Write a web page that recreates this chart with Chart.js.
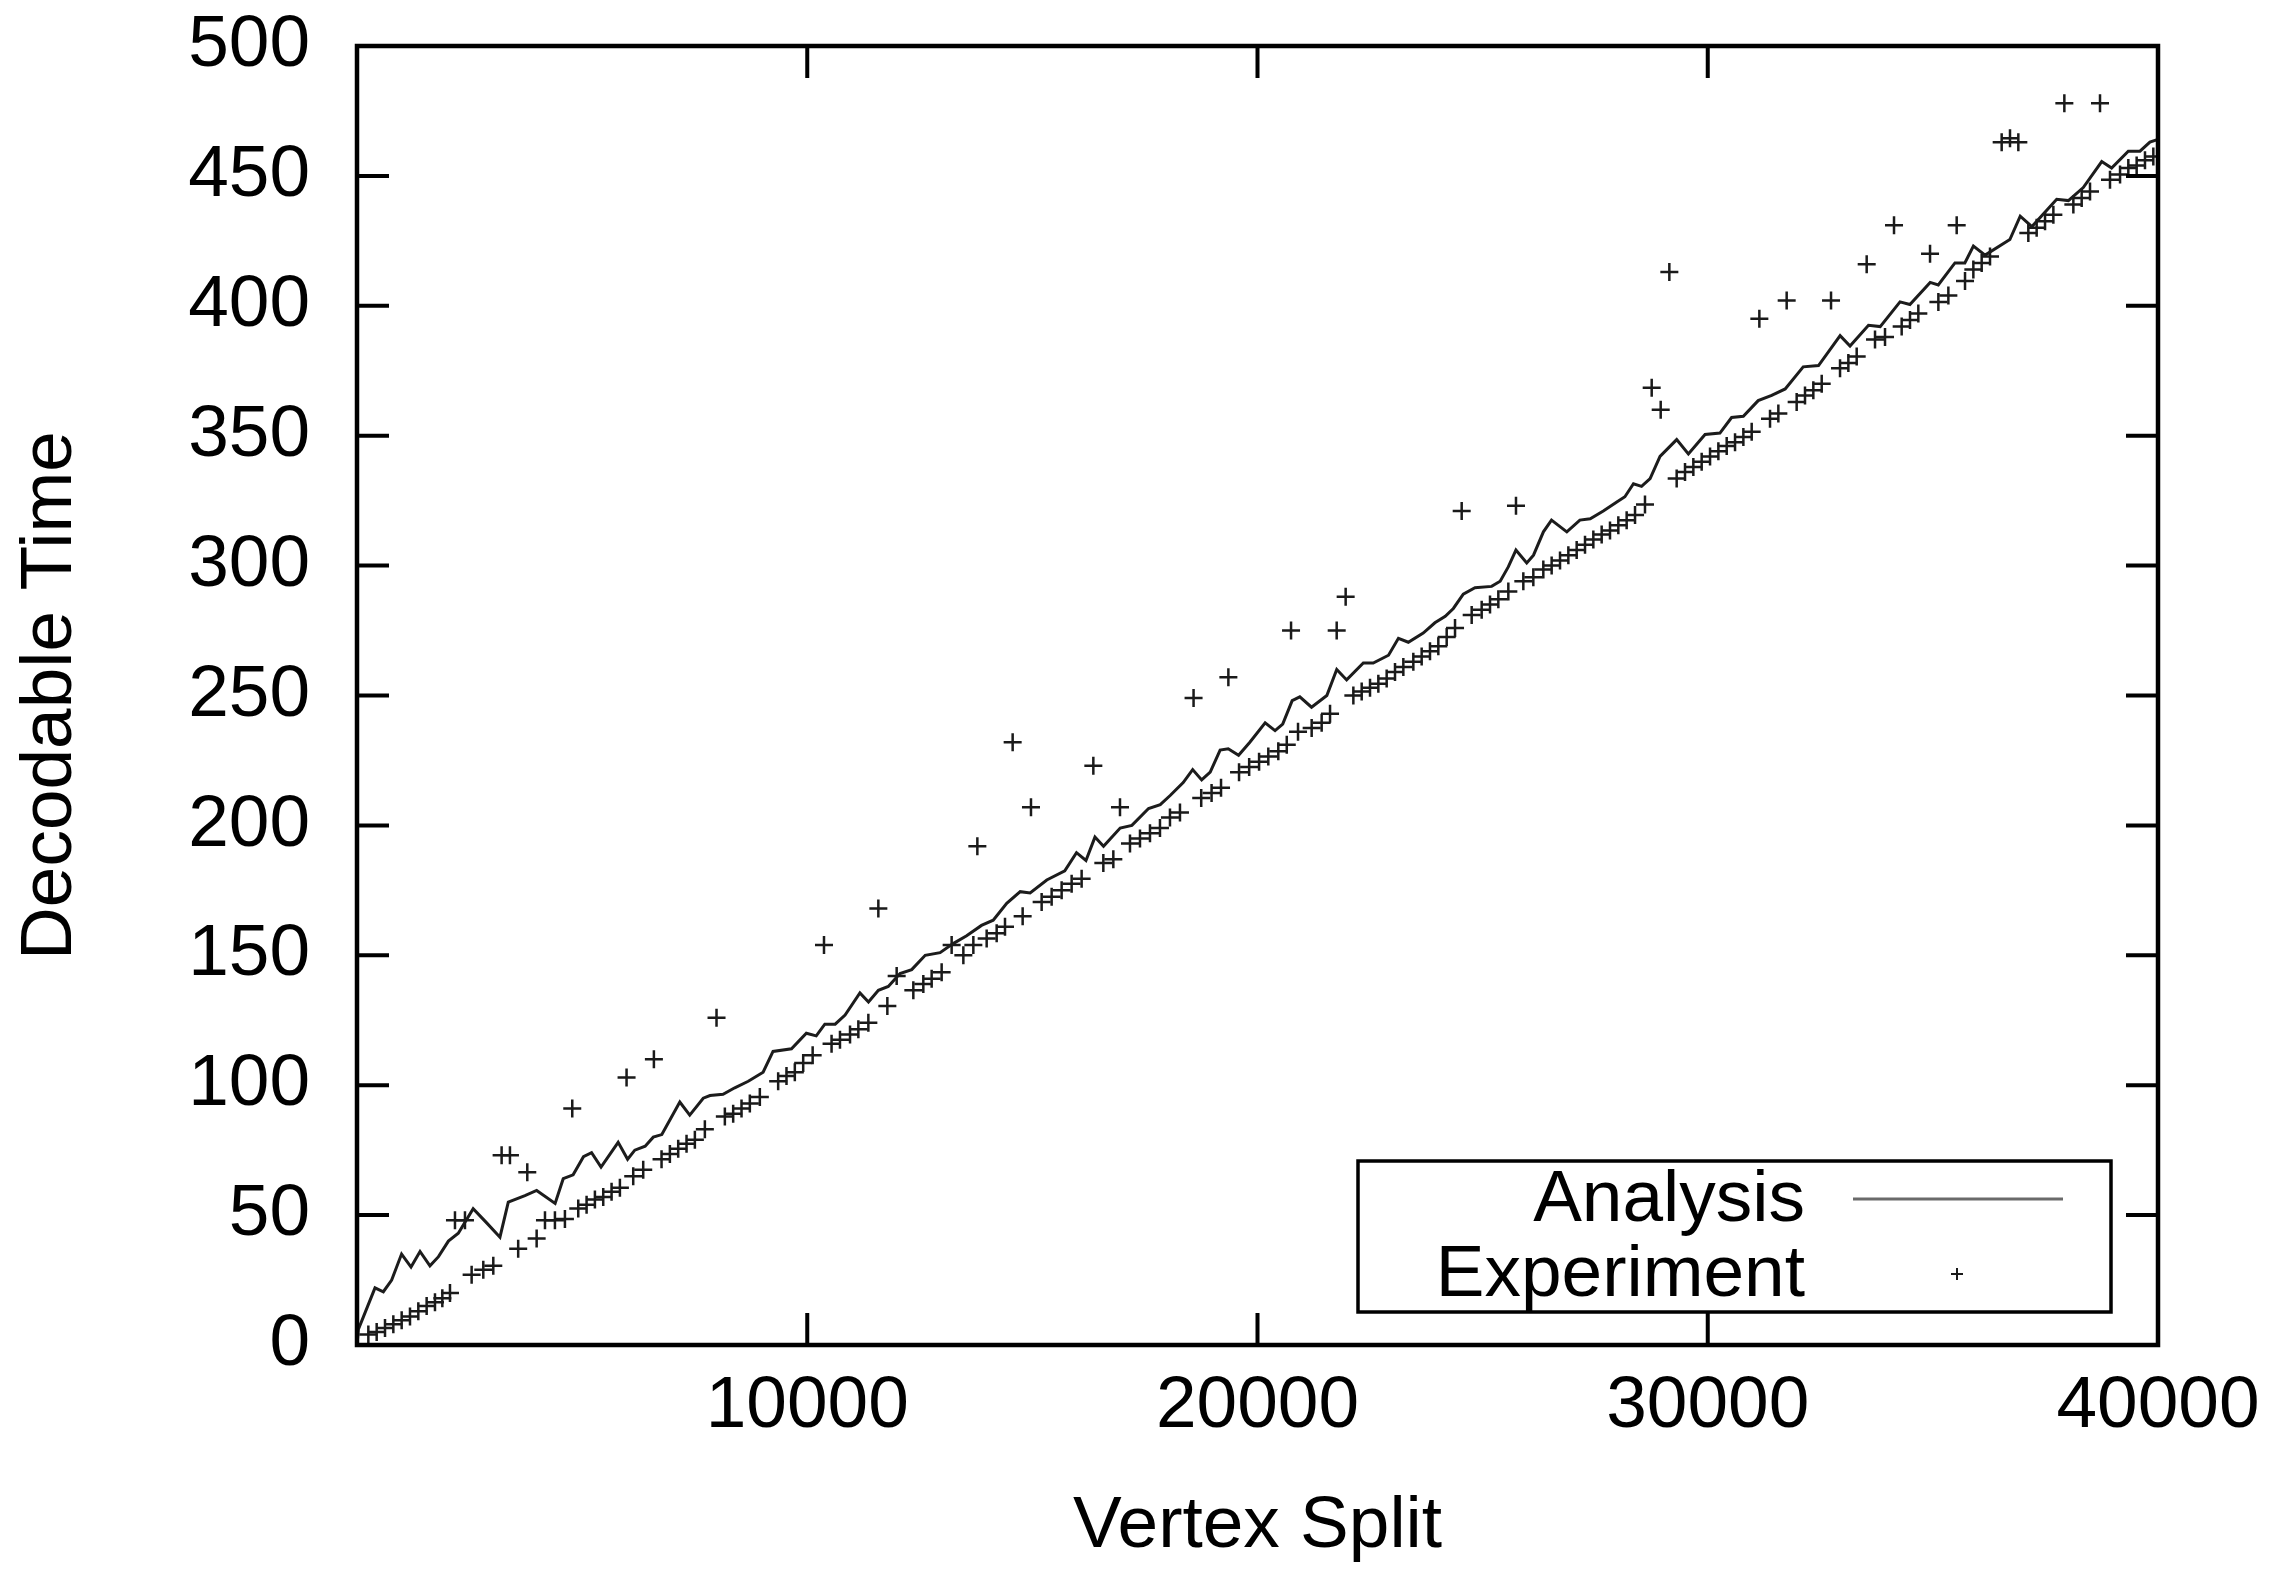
<!DOCTYPE html>
<html>
<head>
<meta charset="utf-8">
<title>Decodable Time vs Vertex Split</title>
<script src="https://cdn.jsdelivr.net/npm/chart.js@4.4.1/dist/chart.umd.min.js"></script>
<style>
  html, body { margin: 0; padding: 0; background: #fff; }
</style>
</head>
<body>
<canvas id="chart" width="2269" height="1578"></canvas>
<script>
// Analysis curve (vertex split -> decodable time)
const analysisX = [0, 30, 400, 585, 770, 990, 1200, 1400, 1620, 1810,
  2030, 2250, 2580, 2880, 3175, 3360, 3730, 3990, 4400, 4580,
  4800, 5030, 5210, 5420, 5800, 6010, 6170, 6400, 6580, 6770,
  7170, 7390, 7690, 7840, 8130, 8390, 8690, 9020, 9240, 9650,
  9980, 10200, 10390, 10620, 10840, 11170, 11360, 11580, 11800, 12060,
  12320, 12620, 12950, 13240, 13540, 13870, 14130, 14430, 14730, 14950,
  15320, 15720, 15980, 16190, 16390, 16580, 16950, 17210, 17580, 17840,
  18060, 18350, 18560, 18760, 18950, 19170, 19350, 19580, 19830, 20170,
  20390, 20560, 20770, 20940, 21200, 21540, 21760, 21980, 22350, 22570,
  22910, 23130, 23350, 23680, 23940, 24170, 24350, 24570, 24830, 25200,
  25390, 25570, 25740, 25980, 26130, 26350, 26530, 26870, 27160, 27390,
  27680, 27980, 28160, 28350, 28530, 28720, 28940, 29310, 29570, 29940,
  30270, 30530, 30790, 31120, 31420, 31720, 32120, 32460, 32940, 33160,
  33570, 33830, 34270, 34490, 34940, 35120, 35490, 35710, 35900, 36160,
  36710, 36940, 37200, 37750, 38010, 38340, 38750, 38970, 39340, 39600,
  39820, 40000];
const analysisY = [0, 6, 22, 20.5, 25, 35, 30, 36, 30.5, 34,
  40, 43, 52.5, 47, 41.5, 55, 57.5, 59.5, 54.5, 64,
  65.5, 72.5, 74, 68.5, 78, 71.5, 75, 76.5, 80, 81,
  93.5, 88.5, 95, 96, 96.5, 99, 101.5, 105, 113, 114,
  120, 119, 123.5, 123.5, 127, 135.5, 132, 136.5, 138, 143,
  144.5, 150, 151, 154.5, 157.5, 161.5, 163.5, 170, 174.5, 174,
  179, 182.5, 189.5, 186.5, 195.5, 192, 199, 200, 206.5, 208,
  211.5, 216.5, 221.5, 217.5, 220.5, 229, 229.5, 227, 232, 239.5,
  236.5, 239, 248, 249.5, 245.5, 250, 260, 256, 262.5, 262.5,
  265.5, 272, 270.5, 274, 278, 280.5, 283.5, 289, 291.5, 292,
  294, 299.5, 306, 301, 304, 313, 317.5, 313, 317.5, 318,
  321, 324.5, 326.5, 331.5, 330.5, 333.5, 342, 348.5, 343, 350.5,
  351, 357, 357.5, 363.5, 365.5, 368, 376.5, 377, 388.5, 384.5,
  392.5, 392, 401.5, 400.5, 409, 408, 416.5, 416.5, 423, 419.5,
  425.5, 434.5, 430.5, 441, 440.5, 445.5, 455.5, 453, 459.5, 459.5,
  463, 464];

// Experiment: the main band of measurements
const expX = [0, 252, 437, 622, 807, 992, 1177, 1362, 1547, 1732,
  1895, 2065, 2546, 2805, 3027, 3580, 3990, 4175, 4396, 4618,
  4914, 5099, 5284, 5469, 5654, 5839, 6135, 6357, 6764, 6949,
  7134, 7319, 7504, 7726, 8170, 8355, 8540, 8725, 8947, 9354,
  9539, 9724, 9910, 10120, 10540, 10727, 10950, 11135, 11357, 11779,
  11986, 12356, 12578, 12763, 12985, 13207, 13467, 13689, 13985, 14207,
  14392, 14784, 15206, 15428, 15650, 15872, 16094, 16576, 16798, 17168,
  17390, 17612, 17834, 18056, 18278, 18750, 18980, 19190, 19590, 19815,
  20035, 20240, 20462, 20650, 20900, 21203, 21425, 21611, 22129, 22314,
  22499, 22684, 22869, 23054, 23239, 23461, 23646, 23831, 24016, 24202,
  24387, 24757, 24979, 25164, 25349, 25571, 25904, 26126, 26348, 26533,
  26719, 26904, 27089, 27274, 27459, 27644, 27829, 28014, 28199, 28385,
  28606, 29310, 29495, 29680, 29865, 30051, 30236, 30421, 30606, 30791,
  30976, 31383, 31568, 31975, 32160, 32345, 32531, 32938, 33123, 33308,
  33715, 33937, 34307, 34492, 34677, 35122, 35344, 35714, 35899, 36084,
  36269, 37120, 37305, 37491, 37676, 38120, 38305, 38490, 38934, 39157,
  39341, 39526, 39711, 39896];
const expY = [0, 4, 5, 6.5, 8, 9.5, 11, 13, 15, 16.5,
  18, 20, 27, 29, 30.5, 37, 41, 48, 48, 48.5,
  52.5, 54, 56, 57, 59, 60.5, 65, 67.5, 71.5, 73.5,
  75.5, 77.5, 79, 83, 88, 89, 91, 93, 95.5, 101.5,
  103.5, 105, 108.5, 111.5, 116, 117.5, 119.5, 121.5, 124, 130.5,
  142, 136.5, 139, 141, 143.5, 154, 150, 154, 156.5, 158.5,
  161, 165, 170.5, 172.5, 175, 177.5, 179.5, 185.5, 187, 193,
  195, 197, 199, 203, 205, 210.5, 212.5, 214.5, 220.5, 222.5,
  224.5, 226.5, 228.5, 231, 236, 237.5, 239.5, 243, 250, 251.5,
  253, 254.5, 256.5, 259, 261, 263, 265, 267, 269, 272.5,
  276, 281, 283, 285, 287, 290, 294, 295.5, 298.5, 300,
  302, 304, 306, 308, 310, 312, 313.5, 315.5, 317.5, 319.5,
  323.5, 333.5, 336, 338, 340, 342, 344, 346, 347.5, 349.5,
  351.5, 356.5, 358.5, 363, 365.5, 367.5, 370, 376, 378, 380.5,
  387, 388, 392, 394.5, 397, 401.5, 404, 409.5, 414, 416.5,
  419, 428, 430, 432.5, 435, 439, 441.5, 444, 448.5, 450.5,
  453, 454, 456, 457.5];

// Experiment: scattered slow runs above the curve
const outlierX = [2176, 2398, 3212, 3397, 3782, 4781, 5987, 6594, 7985, 10372,
  11579, 13778, 14562, 14969, 16354, 16946, 18580, 19353, 20745, 21759,
  21958, 24535, 25741, 28755, 28955, 29147, 31146, 31753, 32738, 33530,
  34137, 34937, 35529, 36528, 36713, 36898, 37920, 38712];
const outlierY = [48, 48, 73, 73, 66.5, 91, 103, 110, 126, 154,
  168, 192, 232, 207, 223, 207, 249, 257, 275, 275,
  288, 321, 323, 368.5, 360, 413, 395, 402, 402, 416,
  431, 420, 431, 463, 464.5, 463, 478, 478];

const xTicks = [0, 10000, 20000, 30000, 40000];
const yTicks = [0, 50, 100, 150, 200, 250, 300, 350, 400, 450, 500];

const toPoints = (xs, ys) => xs.map((x, i) => ({ x: x, y: ys[i] }));

const FONT = '"Liberation Sans", Arial, Helvetica, sans-serif';
Chart.defaults.font.family = FONT;
Chart.defaults.color = '#000';

// gnuplot-like frame with inward ticks, plus the boxed key
const framePlugin = {
  id: 'frame',
  afterDraw(chart) {
    const { ctx, chartArea: a, scales } = chart;
    ctx.save();
    ctx.strokeStyle = '#000';
    ctx.lineWidth = 4.5;
    ctx.strokeRect(a.left, a.top, a.right - a.left, a.bottom - a.top);

    const len = 32;
    ctx.lineWidth = 4;
    ctx.beginPath();
    scales.x.ticks.forEach(t => {
      const px = scales.x.getPixelForValue(t.value);
      ctx.moveTo(px, a.bottom); ctx.lineTo(px, a.bottom - len);
      ctx.moveTo(px, a.top); ctx.lineTo(px, a.top + len);
    });
    scales.y.ticks.forEach(t => {
      const py = scales.y.getPixelForValue(t.value);
      ctx.moveTo(a.left, py); ctx.lineTo(a.left + len, py);
      ctx.moveTo(a.right, py); ctx.lineTo(a.right - len, py);
    });
    ctx.stroke();

    // key box
    const boxW = 753, boxH = 151;
    const bx = a.right - 47 - boxW;
    const by = a.bottom - 33 - boxH;
    ctx.fillStyle = '#fff';
    ctx.fillRect(bx, by, boxW, boxH);
    ctx.lineWidth = 3.5;
    ctx.strokeRect(bx, by, boxW, boxH);

    const rows = [by + 38, by + 113];
    ctx.font = '73px ' + FONT;
    ctx.fillStyle = '#000';
    ctx.textAlign = 'right';
    ctx.textBaseline = 'middle';
    chart.data.datasets.forEach((ds, i) => {
      ctx.fillText(ds.label, bx + 447, rows[i] + 2);
    });

    const line = chart.data.datasets[0];
    ctx.strokeStyle = '#6a6a6a';
    ctx.lineWidth = line.borderWidth;
    ctx.beginPath();
    ctx.moveTo(bx + 495, rows[0]);
    ctx.lineTo(bx + 705, rows[0]);
    ctx.stroke();

    const pts = chart.data.datasets[1];
    ctx.strokeStyle = pts.borderColor;
    ctx.lineWidth = 2;
    const cx = bx + 599, cy = rows[1];
    ctx.beginPath();
    ctx.moveTo(cx - 6, cy); ctx.lineTo(cx + 6, cy);
    ctx.moveTo(cx, cy - 6); ctx.lineTo(cx, cy + 6);
    ctx.stroke();
    ctx.restore();
  }
};

const ctx = document.getElementById('chart').getContext('2d');

new Chart(ctx, {
  type: 'scatter',
  data: {
    datasets: [
      {
        label: 'Analysis',
        data: toPoints(analysisX, analysisY),
        showLine: true,
        borderColor: '#1c1c1c',
        borderWidth: 3,
        pointRadius: 0,
        tension: 0,
        fill: false,
      },
      {
        label: 'Experiment',
        data: toPoints(expX, expY).concat(toPoints(outlierX, outlierY)),
        showLine: false,
        pointStyle: 'cross',
        pointRadius: 9,
        borderColor: '#1a1a1a',
        borderWidth: 2.5,
      },
    ],
  },
  options: {
    responsive: false,
    devicePixelRatio: 1,
    animation: false,
    events: [],
    layout: {
      padding: { top: 46, right: 111, left: 0, bottom: 0 },
    },
    plugins: {
      legend: { display: false },
      tooltip: { enabled: false },
    },
    scales: {
      x: {
        type: 'linear',
        position: 'bottom',
        min: 0,
        max: 40000,
        afterBuildTicks: scale => { scale.ticks = xTicks.map(v => ({ value: v })); },
        afterFit: scale => {
          scale.height = 233;
          scale.paddingLeft = 0;
          scale.paddingRight = 0;
        },
        grid: { display: false, drawTicks: false },
        border: { display: false },
        ticks: {
          autoSkip: false,
          maxRotation: 0,
          padding: 18,
          font: { size: 73 },
          color: '#000',
          callback: v => (v === 0 ? '' : String(v)),
        },
        title: {
          display: true,
          text: 'Vertex Split',
          font: { size: 73 },
          color: '#000',
          padding: { top: 0, bottom: 7 },
        },
      },
      y: {
        type: 'linear',
        position: 'left',
        min: 0,
        max: 500,
        afterBuildTicks: scale => { scale.ticks = yTicks.map(v => ({ value: v })); },
        afterFit: scale => {
          scale.width = 357;
          scale.paddingTop = 0;
          scale.paddingBottom = 0;
        },
        grid: { display: false, drawTicks: false },
        border: { display: false },
        ticks: {
          autoSkip: false,
          padding: 47,
          font: { size: 73 },
          color: '#000',
          callback: v => String(v),
        },
        title: {
          display: true,
          text: 'Decodable Time',
          font: { size: 73 },
          color: '#000',
          padding: { top: 7, bottom: 0 },
        },
      },
    },
  },
  plugins: [framePlugin],
});
</script>
</body>
</html>
